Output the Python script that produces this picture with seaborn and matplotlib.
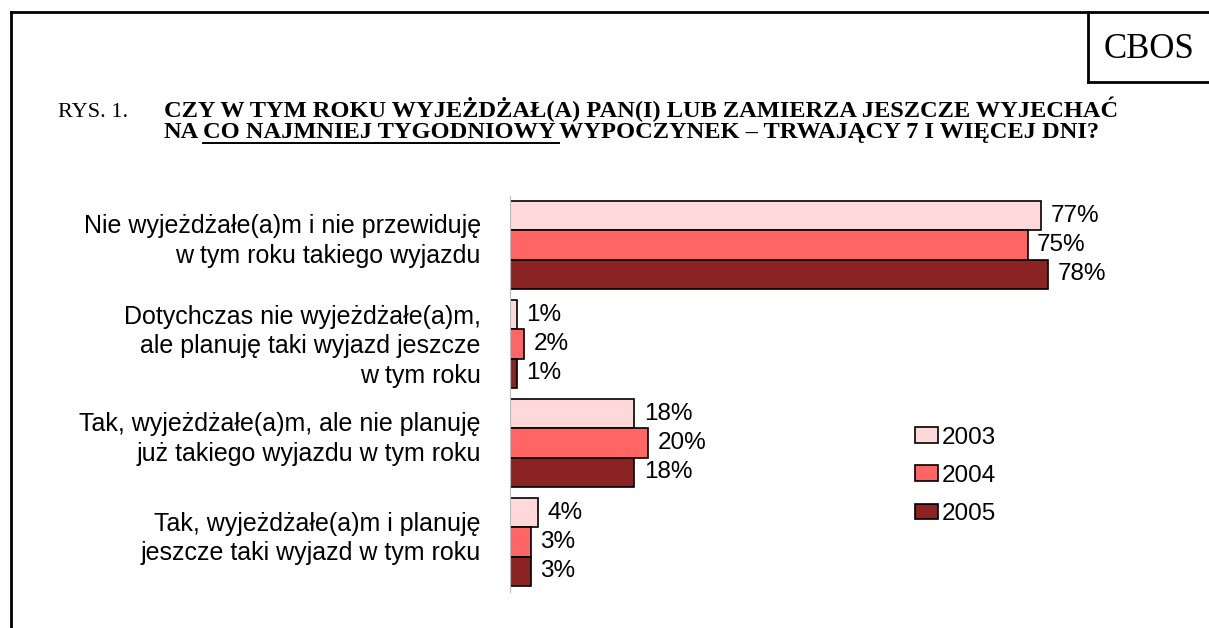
import numpy as np
import pandas as pd
import matplotlib
matplotlib.use("Agg")
from matplotlib import pyplot as plt
from matplotlib.transforms import ScaledTranslation
import seaborn as sns

# data
categories = [
    "Nie wyjeżdżałe(a)m i nie przewiduję\nw tym roku takiego wyjazdu",
    "Dotychczas nie wyjeżdżałe(a)m,\nale planuję taki wyjazd jeszcze\nw tym roku",
    "Tak, wyjeżdżałe(a)m, ale nie planuję\njuż takiego wyjazdu w tym roku",
    "Tak, wyjeżdżałe(a)m i planuję\njeszcze taki wyjazd w tym roku",
]
years = ["2003", "2004", "2005"]
values_2003 = [77, 1, 18, 4]
values_2004 = [75, 2, 20, 3]
values_2005 = [78, 1, 18, 3]
colors = ["#FFD9D9", "#FF6565", "#8B2323"]

df = pd.DataFrame(
    {
        "category": categories * 3,
        "year": [y for y in years for _ in categories],
        "value": values_2003 + values_2004 + values_2005,
    }
)

W, H = 1209, 628
fig = plt.figure(figsize=(W / 100, H / 100), dpi=100)


def fx(x):
    return x / W


def fy(y):
    return 1 - y / H


sans = "Liberation Sans"
serif = "Liberation Serif"

ax = fig.add_axes([fx(510), fy(591.5), 690 / W, 396 / H])
sns.barplot(
    data=df,
    x="value",
    y="category",
    hue="year",
    order=categories,
    hue_order=years,
    palette=colors,
    orient="h",
    width=0.89,
    edgecolor="black",
    linewidth=1.2,
    saturation=1,
    ax=ax,
)
ax.set_xlim(0, 100)
ax.set_ylim(3.5, -0.5)
ax.set_xlabel("")
ax.set_ylabel("")
ax.set_xticks([])
ax.tick_params(axis="y", length=0, pad=21)
ax.set_yticks(range(len(categories)))
ax.set_yticklabels(categories, fontsize=18, family=sans, linespacing=1.3)
# labels sit a little above the bar centre in the original
for lab in ax.get_yticklabels():
    up = 9 if lab.get_text().count("\n") == 1 else 3
    lab.set_transform(lab.get_transform() + ScaledTranslation(0, up / 100, fig.dpi_scale_trans))
for s in ["top", "right", "bottom"]:
    ax.spines[s].set_visible(False)
ax.spines["left"].set_color("#bbbbbb")
ax.spines["left"].set_linewidth(0.8)

for cont in ax.containers:
    ax.bar_label(
        cont,
        labels=[f"{int(v)}%" for v in cont.datavalues],
        padding=7,
        fontsize=17.5,
        family=sans,
    )

handles, labels = ax.get_legend_handles_labels()
ax.legend(
    handles,
    labels,
    loc="upper left",
    bbox_to_anchor=(fx(893), fy(405)),
    bbox_transform=fig.transFigure,
    frameon=False,
    prop={"family": sans, "size": 17.5},
    handlelength=0.95,
    handleheight=0.62,
    handletextpad=0.15,
    labelspacing=0.66,
)

# frame and CBOS box
lw = 2
fig.add_artist(plt.Line2D([fx(11), fx(11)], [fy(12), 0], color="black", lw=lw))
fig.add_artist(plt.Line2D([fx(11), 1], [fy(12), fy(12)], color="black", lw=lw))
fig.add_artist(plt.Line2D([fx(1088), fx(1088)], [fy(12), fy(82)], color="black", lw=lw))
fig.add_artist(plt.Line2D([fx(1088), 1], [fy(82), fy(82)], color="black", lw=lw))
fig.text(fx(1149), fy(50), "CBOS", family=serif, fontsize=25, ha="center", va="center")

# title
tsize = 17.6
fig.text(fx(58), fy(117), "RYS. 1.", family=serif, fontsize=16, va="baseline")
tprops = dict(family=serif, fontsize=tsize, fontweight="bold", va="baseline")
fig.text(
    fx(164),
    fy(117),
    "CZY W TYM ROKU WYJEŻDŻAŁ(A) PAN(I) LUB ZAMIERZA JESZCZE WYJECHAĆ",
    **tprops,
)

renderer = fig.canvas.get_renderer()
t_aa = fig.text(0, 0, "AA", **tprops)
t_a_a = fig.text(0, 0, "A A", **tprops)
space = t_a_a.get_window_extent(renderer).width - t_aa.get_window_extent(renderer).width
t_aa.remove()
t_a_a.remove()

x = 164
parts = ["NA", "CO NAJMNIEJ TYGODNIOWY", "WYPOCZYNEK – TRWAJĄCY 7 I WIĘCEJ DNI?"]
for i, p in enumerate(parts):
    t = fig.text(fx(x), fy(138), p, **tprops)
    w = t.get_window_extent(renderer).width
    if i == 1:
        fig.add_artist(
            plt.Line2D([fx(x), fx(x + w + space)], [fy(142.5), fy(142.5)], color="black", lw=1.4)
        )
    x += w + space

fig.savefig("out.png", dpi=100)
